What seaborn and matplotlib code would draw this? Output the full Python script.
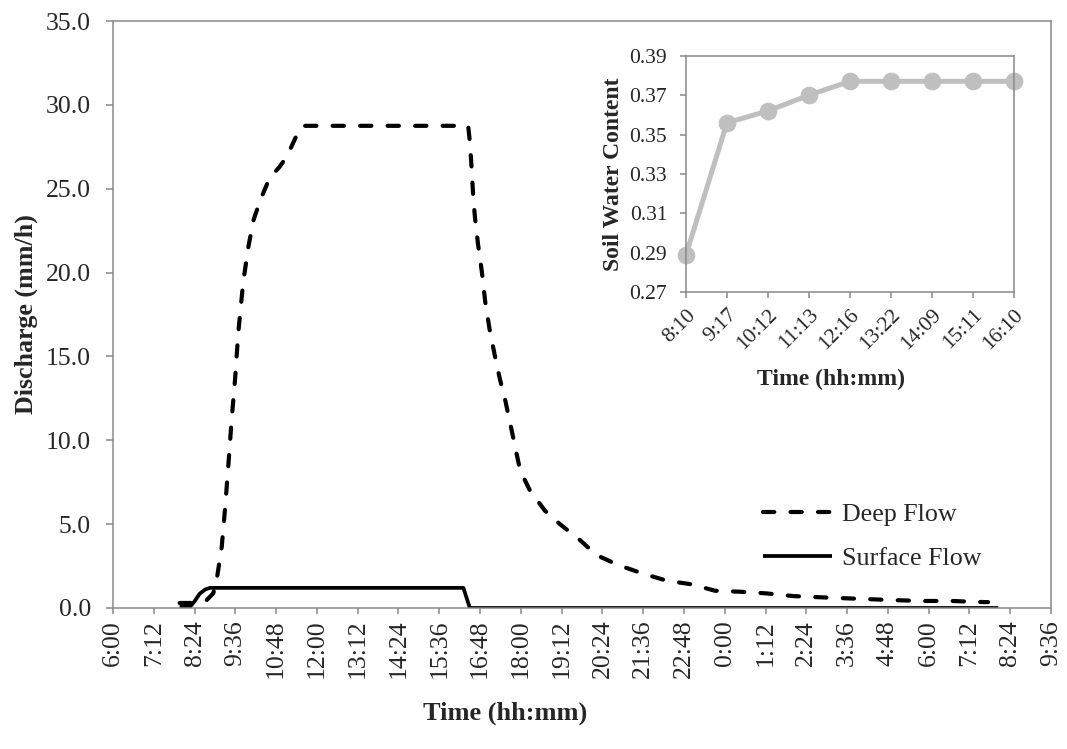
import numpy as np
import matplotlib
matplotlib.use("Agg")
import matplotlib.pyplot as plt
import seaborn as sns

# ---- data (time in hours since midnight of day 1) ----
deep_time = [7.96, 8.30, 8.55, 8.76, 8.95, 9.05, 9.20, 9.30, 9.39, 9.49, 9.59, 9.69, 9.83,
             9.98, 10.13, 10.33, 10.62, 10.72, 10.90, 11.11, 11.50, 11.60, 16.45, 16.50,
             16.55, 16.60, 16.65, 16.74, 16.85, 16.95, 17.09, 17.24, 17.39, 17.53, 17.74,
             17.98, 18.27, 18.71, 19.15, 19.74, 20.23, 20.87, 21.56, 22.29, 23.03, 23.71,
             24.45, 25.23, 26.02, 26.80, 27.54, 28.32, 29.11, 29.89, 30.68, 31.46, 31.75]
deep_flow = [0.30, 0.30, 0.35, 0.48, 0.87, 1.67, 3.65, 6.0, 8.4, 11.2, 13.6, 16.5, 19.4,
             21.5, 23.1, 24.3, 25.7, 25.9, 26.3, 26.9, 28.6, 28.75, 28.75, 27.8,
             26.3, 24.5, 23.3, 21.7, 20.1, 18.3, 16.5, 15.0, 13.6, 12.5, 10.5,
             8.2, 7.0, 5.8, 5.0, 4.05, 3.15, 2.56, 2.07, 1.63, 1.41, 1.03,
             0.97, 0.87, 0.71, 0.64, 0.58, 0.52, 0.46, 0.42, 0.42, 0.36, 0.35]

surface_time = [7.96, 8.27, 8.40, 8.55, 8.71, 8.85, 16.31, 16.50, 32.05]
surface_flow = [0.08, 0.08, 0.40, 0.85, 1.10, 1.20, 1.20, 0.0, 0.0]

swc_labels = ["8:10", "9:17", "10:12", "11:13", "12:16", "13:22", "14:09", "15:11", "16:10"]
swc_values = [0.289, 0.356, 0.362, 0.370, 0.377, 0.377, 0.377, 0.377, 0.377]

main_ticks = [6 + 1.2 * i for i in range(24)]


def fmt_time(h):
    m = int(round(h * 60))
    return f"{(m // 60) % 24}:{m % 60:02d}"


sns.set_style("white")
plt.rcParams["font.family"] = ["Liberation Serif", "DejaVu Serif"]

W, H = 1067, 749
fig = plt.figure(figsize=(W / 100, H / 100), dpi=100)

frame_col = "#898989"

# main axes
L, R, T, B = 113, 1051, 21, 608
ax = fig.add_axes([L / W, 1 - B / H, (R - L) / W, (B - T) / H])

sns.lineplot(x=deep_time, y=deep_flow, ax=ax, color="black", linewidth=3.0,
             estimator=None, sort=False, label="Deep Flow")
sns.lineplot(x=surface_time, y=surface_flow, ax=ax, color="black", linewidth=2.7,
             estimator=None, sort=False, label="Surface Flow")
lines = ax.get_lines()
deep_line, surf_line = lines[0], lines[1]
deep_line.set_dashes([2.7, 3.9])
deep_line.set_dash_capstyle("round")
deep_line.set_solid_joinstyle("round")
surf_line.set_solid_joinstyle("round")
surf_line.set_solid_capstyle("butt")

ax.set_xlim(6, 33.6)
ax.set_ylim(0, 35)
ax.set_xticks(main_ticks)
ax.set_xticklabels([fmt_time(h) for h in main_ticks], rotation=90)
ax.set_yticks(np.arange(0, 35.1, 5))
ax.set_yticklabels([f"{v:.1f}" for v in np.arange(0, 35.1, 5)])
for s in ax.spines.values():
    s.set_color(frame_col)
    s.set_linewidth(1.1)
ax.tick_params(axis="x", direction="out", length=4.5, width=1.1, color=frame_col,
               labelsize=18.5, pad=4, bottom=True)
ax.tick_params(axis="y", direction="out", length=5, width=1.1, color=frame_col,
               labelsize=18.5, pad=11, left=True)
ax.grid(False)

ax.set_ylabel("Discharge (mm/h)", fontsize=18.7, fontweight="bold")
ax.yaxis.set_label_coords((38 - L) / (R - L), 0.5)
ax.set_xlabel("Time (hh:mm)", fontsize=19, fontweight="bold")
ax.xaxis.set_label_coords((505 - L) / (R - L), -(702 - B) / (B - T))

ax.legend(handles=[deep_line, surf_line], labels=["Deep Flow", "Surface Flow"],
          loc="upper left", bbox_to_anchor=(763 / W, 1 - 503 / H),
          bbox_transform=fig.transFigure, frameon=False, fontsize=18.7,
          handlelength=2.65, handletextpad=0.38, labelspacing=0.78,
          borderpad=0, borderaxespad=0)

# inset axes
iL, iR, iT, iB = 686, 1014, 55.7, 292.3
axi = fig.add_axes([iL / W, 1 - iB / H, (iR - iL) / W, (iB - iT) / H])
idx = list(range(len(swc_labels)))
sns.lineplot(x=idx, y=swc_values, ax=axi, color="#BFBFBF", linewidth=3.6,
             marker="o", markersize=12, markeredgecolor="#BFBFBF",
             markerfacecolor="#BFBFBF", estimator=None, sort=False, clip_on=False,
             legend=False)
axi.set_xlim(0, len(swc_labels) - 1)
axi.set_ylim(0.27, 0.39)
axi.set_xticks(idx)
axi.set_xticklabels(swc_labels, rotation=45, ha="right", rotation_mode="anchor")
axi.set_yticks(np.arange(0.27, 0.3901, 0.02))
axi.set_yticklabels([f"{v:.2f}" for v in np.arange(0.27, 0.3901, 0.02)])
for s in axi.spines.values():
    s.set_color(frame_col)
    s.set_linewidth(1.1)
axi.tick_params(axis="x", direction="out", length=4.5, width=1.1, color=frame_col,
                labelsize=15.5, pad=5, bottom=True)
axi.tick_params(axis="y", direction="out", length=4.5, width=1.1, color=frame_col,
                labelsize=15.5, pad=9, left=True)
axi.set_ylabel("Soil Water Content", fontsize=17, fontweight="bold")
axi.yaxis.set_label_coords((624 - iL) / (iR - iL), 0.5)
axi.set_xlabel("Time (hh:mm)", fontsize=17, fontweight="bold")
axi.xaxis.set_label_coords((831 - iL) / (iR - iL), -(369 - iB) / (iB - iT))
axi.grid(False)

fig.savefig("out.png", dpi=100)
